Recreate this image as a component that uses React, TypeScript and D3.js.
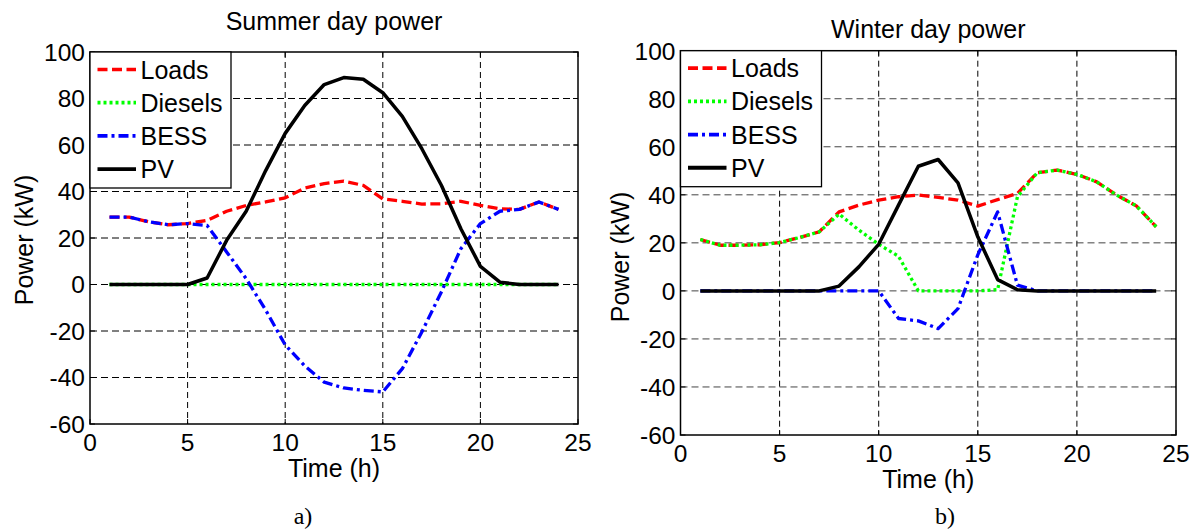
import React from "react";
import * as d3 from "d3";

const hours = [1, 2, 3, 4, 5, 6, 7, 8, 9, 10, 11, 12, 13, 14, 15, 16, 17, 18, 19, 20, 21, 22, 23, 24];
const xTicks = [0, 5, 10, 15, 20, 25];
const yTicks = [-60, -40, -20, 0, 20, 40, 60, 80, 100];
const seriesNames = ["Loads", "Diesels", "BESS", "PV"];

// Summer day (kW)
const summerLoads = [29, 29, 27, 25.7, 26.2, 27.6, 31.5, 34, 35.5, 37.3, 41.5, 43.4, 44.5, 42.6, 36.8, 35.8, 34.6, 34.7, 35.8, 34, 32.6, 32.3, 35.5, 32.3];
const summerDiesels = [0, 0, 0, 0, 0, 0, 0, 0, 0, 0, 0, 0, 0, 0, 0, 0, 0, 0, 0, 0, 0, 0, 0, 0];
const summerBESS = [29, 29, 27, 25.7, 26.2, 25.4, 14, 2.5, -11, -26, -35, -42, -44.5, -45.5, -46.2, -36.2, -20.4, -3.2, 15.4, 26.2, 31.5, 32.3, 35.5, 32.3];
const summerPV = [0, 0, 0, 0, 0, 2.8, 19, 31.5, 49, 65, 77, 86, 89, 88.3, 82.5, 72.3, 58.4, 42.7, 24, 7.8, 1, 0, 0, 0];

// Winter day (kW)
const winterLoads = [21.4, 19, 19, 19.2, 20.1, 22.2, 24.6, 32.9, 35.7, 37.8, 39.2, 39.9, 38.9, 37.8, 35.3, 38, 40.6, 49.2, 50.3, 48.5, 45.4, 39.9, 35.4, 26.7];
const winterDiesels = [21.4, 19, 19, 19.2, 20.1, 22.2, 24.6, 32, 25.3, 19.4, 14.4, 0, 0, 0, 0, 0.5, 39.2, 49.2, 50.3, 48.5, 45.4, 39.9, 35.4, 26.7];
const winterBESS = [0, 0, 0, 0, 0, 0, 0, 0, 0, 0, -11.5, -12.5, -15.7, -7.4, 15, 32.9, 2.4, 0, 0, 0, 0, 0, 0, 0];
const winterPV = [0, 0, 0, 0, 0, 0, 0, 2, 10, 19.4, 35.7, 51.9, 54.7, 45, 22.5, 4.7, 0.5, 0, 0, 0, 0, 0, 0, 0];

const FONT = "'Liberation Sans', Arial, sans-serif";

const styles = [
  { color: "#ff0000", dash: "10,4.5", width: 3.3 },
  { color: "#00ff00", dash: "3,3", width: 3.3 },
  { color: "#0000ff", dash: "10,4,3,4", width: 3.3 },
  { color: "#000000", dash: "none", width: 3.5 },
];

type PanelProps = {
  title: string;
  series: number[][];
  left: number;
  right: number;
  top: number;
  bottom: number;
  titleY: number;
  yLabelX: number;
  yLabelY: number;
  xLabelY: number;
  tag: string;
  tagX: number;
  hGridColor: string;
};

function Panel(p: PanelProps) {
  const x = d3.scaleLinear().domain([0, 25]).range([p.left, p.right]);
  const y = d3.scaleLinear().domain([-60, 100]).range([p.bottom, p.top]);
  const line = d3
    .line<number>()
    .x((_, i) => x(hours[i]))
    .y((d) => y(d));
  const cx = (p.left + p.right) / 2;
  const legW = 141;
  const legH = 136;
  const tickLen = 5;
  return (
    <g>
      <rect x={p.left} y={p.top} width={p.right - p.left} height={p.bottom - p.top} fill="#fff" />
      {xTicks.slice(1, -1).map((t) => (
        <line key={"gx" + t} x1={x(t)} x2={x(t)} y1={p.top} y2={p.bottom} stroke="#000" strokeWidth={1} strokeDasharray="6,4" />
      ))}
      {yTicks.slice(1, -1).map((t) => (
        <line key={"gy" + t} x1={p.left} x2={p.right} y1={y(t)} y2={y(t)} stroke={p.hGridColor} strokeWidth={1} strokeDasharray="7,4" />
      ))}
      {xTicks.map((t) => (
        <g key={"tx" + t}>
          <line x1={x(t)} x2={x(t)} y1={p.bottom} y2={p.bottom - tickLen} stroke="#000" strokeWidth={1} />
          <line x1={x(t)} x2={x(t)} y1={p.top} y2={p.top + tickLen} stroke="#000" strokeWidth={1} />
          <text x={x(t)} y={p.bottom + 27} textAnchor="middle" fontSize={24.5} fontFamily={FONT}>
            {t}
          </text>
        </g>
      ))}
      {yTicks.map((t) => (
        <g key={"ty" + t}>
          <line x1={p.left} x2={p.left + tickLen} y1={y(t)} y2={y(t)} stroke="#000" strokeWidth={1} />
          <line x1={p.right} x2={p.right - tickLen} y1={y(t)} y2={y(t)} stroke="#000" strokeWidth={1} />
          <text x={p.left - 5} y={y(t)} dy="0.36em" textAnchor="end" fontSize={24.5} fontFamily={FONT}>
            {t}
          </text>
        </g>
      ))}
      {p.series.map((s, i) => (
        <path
          key={"s" + i}
          d={line(s) || ""}
          fill="none"
          stroke={styles[i].color}
          strokeWidth={styles[i].width}
          strokeDasharray={styles[i].dash}
          strokeLinejoin="round"
        />
      ))}
      <rect x={p.left} y={p.top} width={p.right - p.left} height={p.bottom - p.top} fill="none" stroke="#000" strokeWidth={1.5} />
      <rect x={p.left} y={p.top} width={legW} height={legH} fill="#fff" stroke="#000" strokeWidth={1.3} />
      {seriesNames.map((n, i) => {
        const ly = p.top + 17.5 + i * 33.2;
        return (
          <g key={"l" + n}>
            <line x1={p.left + 7.5} x2={p.left + 46} y1={ly} y2={ly} stroke={styles[i].color} strokeWidth={styles[i].width + 0.4} strokeDasharray={styles[i].dash} />
            <text x={p.left + 50.5} y={ly + 9} fontSize={25} fontFamily={FONT}>
              {n}
            </text>
          </g>
        );
      })}
      <text x={cx} y={p.titleY} textAnchor="middle" fontSize={25} fontFamily={FONT}>
        {p.title}
      </text>
      <text x={cx} y={p.xLabelY} textAnchor="middle" fontSize={25} fontFamily={FONT}>
        Time (h)
      </text>
      <text transform={`translate(${p.yLabelX},${p.yLabelY}) rotate(-90)`} textAnchor="middle" fontSize={25} fontFamily={FONT}>
        Power (kW)
      </text>
      <text x={p.tagX} y={524} textAnchor="middle" fontSize={24} fontFamily="'Liberation Serif', 'Times New Roman', serif">
        {p.tag}
      </text>
    </g>
  );
}

export default function App() {
  return (
    <svg width={1193} height={530} style={{ position: "absolute", left: 0, top: 0, background: "#fff" }}>
      <rect x={0} y={0} width={1193} height={530} fill="#fff" />
      <Panel
        title="Summer day power"
        series={[summerLoads, summerDiesels, summerBESS, summerPV]}
        left={90}
        right={578}
        top={52}
        bottom={424}
        titleY={30}
        yLabelX={33}
        yLabelY={240}
        xLabelY={477}
        tag="a)"
        tagX={303}
        hGridColor="#000"
      />
      <Panel
        title="Winter day power"
        series={[winterLoads, winterDiesels, winterBESS, winterPV]}
        left={680.5}
        right={1176}
        top={50.7}
        bottom={435}
        titleY={38}
        yLabelX={629}
        yLabelY={257}
        xLabelY={488}
        tag="b)"
        tagX={945}
        hGridColor="#444"
      />
    </svg>
  );
}
